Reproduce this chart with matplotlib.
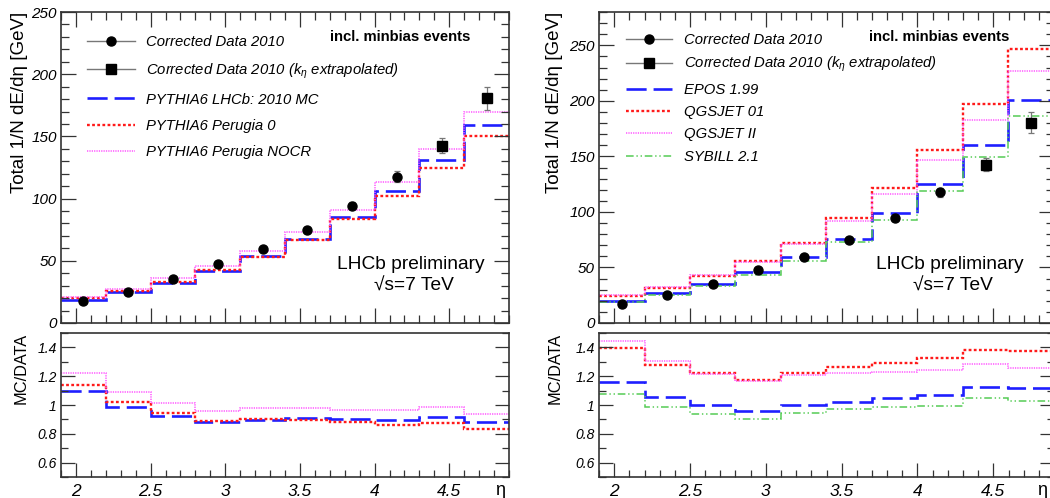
import matplotlib
matplotlib.use("Agg")
import matplotlib.pyplot as plt
from matplotlib.lines import Line2D
from matplotlib.ticker import MultipleLocator

plt.rcParams['font.family'] = ['Liberation Sans', 'DejaVu Sans']
plt.rcParams['mathtext.fontset'] = 'custom'
plt.rcParams['mathtext.rm'] = 'Liberation Sans'
plt.rcParams['mathtext.it'] = 'Liberation Sans:italic'
plt.rcParams['lines.scale_dashes'] = False

# ---------------- data ----------------
eta_edges = [1.9, 2.2, 2.5, 2.8, 3.1, 3.4, 3.7, 4.0, 4.3, 4.6, 4.9]
eta_data = [2.05, 2.35, 2.65, 2.95, 3.25, 3.55, 3.85, 4.15]
data_2010 = [17.4, 24.9, 35.3, 47.6, 59.4, 74.9, 94.4, 117.6]
data_2010_err = [0.6, 0.8, 1.1, 1.5, 1.9, 2.4, 3.0, 4.2]
eta_extrap = [4.45, 4.75]
data_extrap = [142.5, 180.5]
data_extrap_err = [6.0, 9.4]

# left panel: PYTHIA6 tunes
pythia_lhcb = [18.7, 24.9, 32.1, 42.0, 53.5, 67.4, 85.0, 105.9, 130.7, 158.8]
pythia_p0 = [19.8, 25.4, 33.3, 42.4, 53.4, 67.1, 83.2, 102.0, 124.8, 150.7]
pythia_nocr = [21.3, 27.3, 35.8, 45.6, 57.8, 73.0, 91.0, 113.3, 139.8, 169.3]
ratio_lhcb = [1.097, 0.987, 0.922, 0.882, 0.899, 0.908, 0.903, 0.899, 0.920, 0.880]
ratio_p0 = [1.141, 1.020, 0.943, 0.892, 0.900, 0.896, 0.882, 0.864, 0.878, 0.836]
ratio_nocr = [1.225, 1.092, 1.015, 0.957, 0.978, 0.978, 0.966, 0.962, 0.983, 0.938]

# right panel: cosmic-ray generators
epos = [20.1, 26.9, 35.3, 45.5, 59.3, 76.0, 98.8, 125.4, 160.5, 201.2]
qgsjet01 = [24.4, 31.8, 42.5, 55.4, 72.0, 94.3, 121.3, 155.4, 197.0, 247.0]
qgsjet2 = [25.1, 32.5, 42.8, 55.0, 71.0, 91.9, 116.2, 146.4, 183.2, 226.6]
sybill = [18.6, 25.4, 33.3, 43.1, 55.7, 72.8, 92.8, 119.2, 149.7, 186.2]
ratio_epos = [1.162, 1.055, 1.000, 0.959, 1.003, 1.024, 1.048, 1.066, 1.127, 1.115]
ratio_q01 = [1.398, 1.276, 1.225, 1.171, 1.225, 1.262, 1.290, 1.323, 1.384, 1.372]
ratio_q2 = [1.444, 1.304, 1.216, 1.164, 1.209, 1.223, 1.232, 1.244, 1.288, 1.255]
ratio_syb = [1.078, 0.987, 0.936, 0.903, 0.943, 0.969, 0.985, 0.992, 1.048, 1.031]

labels_left = ["PYTHIA6 LHCb: 2010 MC", "PYTHIA6 Perugia 0", "PYTHIA6 Perugia NOCR"]
labels_right = ["EPOS 1.99", "QGSJET 01", "QGSJET II", "SYBILL 2.1"]
lbl_data = "Corrected Data 2010"
lbl_extrap = r"Corrected Data 2010 ($k_{\eta}$ extrapolated)"

# ---------------- styles ----------------
BLUE = '#1f1fff'
RED = '#ff1a1a'
MAG = '#ff55ff'
GREEN = '#55cc55'
sty_blue = dict(color=BLUE, lw=1.9, ls=(0, (14.5, 5.0)))
sty_red = dict(color=RED, lw=1.7, ls=(0, (2.0, 1.7)))
sty_mag = dict(color=MAG, lw=1.1, ls=(0, (0.9, 0.8)))
sty_green = dict(color=GREEN, lw=1.1, ls=(0, (5.5, 2.0, 1.0, 2.0, 1.0, 2.0)))
FRAME = '#333333'

W, H = 1050, 498
fig = plt.figure(figsize=(W / 100, H / 100), dpi=100)


def pos(l, t, r, b):
    return [l / W, 1 - b / H, (r - l) / W, (b - t) / H]


axL = fig.add_axes(pos(61, 12, 509, 323))
axLr = fig.add_axes(pos(61, 333, 509, 477))
axR = fig.add_axes(pos(599, 12, 1054, 323))
axRr = fig.add_axes(pos(599, 333, 1054, 477))


def style_frame(ax):
    for s in ax.spines.values():
        s.set_color(FRAME)
        s.set_linewidth(1.2)


def draw_data(ax):
    ax.errorbar(eta_data, data_2010, yerr=data_2010_err, fmt='o', ms=6.5,
                mfc='black', mec='black', ecolor='#777777', elinewidth=0.9,
                capsize=2.5, capthick=0.9, zorder=5)
    ax.errorbar(eta_extrap, data_extrap, yerr=data_extrap_err, fmt='s', ms=6.5,
                mfc='black', mec='black', ecolor='#777777', elinewidth=0.9,
                capsize=2.5, capthick=0.9, zorder=5)


def main_axes(ax, ymax):
    style_frame(ax)
    ax.set_xlim(eta_edges[0], eta_edges[-1])
    ax.set_ylim(0, ymax)
    ax.xaxis.set_major_locator(MultipleLocator(0.5))
    ax.xaxis.set_minor_locator(MultipleLocator(0.1))
    yt = list(range(0, 251, 50))
    ax.set_yticks(yt, [str(v) for v in yt], fontstyle='italic', fontsize=11)
    ax.yaxis.set_minor_locator(MultipleLocator(10))
    ax.tick_params(which='both', direction='in', top=True, right=True,
                   labelbottom=False, color=FRAME, width=0.9)
    ax.tick_params(which='major', length=10.5, pad=3)
    ax.tick_params(which='minor', length=5.5)
    ax.set_ylabel("Total 1/N dE/dη [GeV]", fontsize=13.5, loc='top')


def ratio_axes(ax):
    style_frame(ax)
    ax.set_xlim(eta_edges[0], eta_edges[-1])
    ax.set_ylim(0.5, 1.5)
    xt = [2, 2.5, 3, 3.5, 4, 4.5]
    ax.set_xticks(xt, ['%g' % v for v in xt], fontstyle='italic', fontsize=12.5)
    ax.xaxis.set_minor_locator(MultipleLocator(0.1))
    yt = [0.6, 0.8, 1.0, 1.2, 1.4]
    ax.set_yticks(yt, ['%g' % v for v in yt], fontstyle='italic', fontsize=10)
    ax.yaxis.set_minor_locator(MultipleLocator(0.1))
    ax.tick_params(which='both', direction='in', top=False, right=True,
                   color=FRAME, width=0.9)
    ax.tick_params(which='major', length=10, pad=3)
    ax.tick_params(which='minor', length=5)
    ax.tick_params(axis='x', which='major', pad=5)
    ax.set_ylabel("MC/DATA", fontsize=11.8, loc='top')


def data_handles():
    h1 = Line2D([], [], color='#777777', lw=1, marker='o', ms=6.5, mfc='k', mec='k')
    h2 = Line2D([], [], color='#777777', lw=1, marker='s', ms=6.5, mfc='k', mec='k')
    return [h1, h2]


def steps(ax, vals, **kw):
    return ax.stairs(vals, eta_edges, baseline=None, **kw)


# ---------------- left panel ----------------
main_axes(axL, 250)
sL = [steps(axL, pythia_lhcb, label=labels_left[0], **sty_blue),
      steps(axL, pythia_p0, label=labels_left[1], **sty_red),
      steps(axL, pythia_nocr, label=labels_left[2], **sty_mag)]
draw_data(axL)
axL.yaxis.set_label_coords(-0.073, 1.0)
axL.legend(data_handles() + sL, [lbl_data, lbl_extrap] + labels_left,
           loc='upper left', bbox_to_anchor=(0.058, 0.926), frameon=False,
           prop=dict(style='italic', size=10.7), handlelength=3.2,
           handletextpad=0.75, labelspacing=0.82, borderpad=0,
           borderaxespad=0, numpoints=1)
axL.text(0.758, 0.92, "incl. minbias events", transform=axL.transAxes,
         ha='center', va='center', fontsize=10.7, fontweight='bold')
axL.text(0.781, 0.1865, "LHCb preliminary", transform=axL.transAxes,
         ha='center', va='center', fontsize=13.8)
axL.text(0.788, 0.119, "√s=7 TeV", transform=axL.transAxes,
         ha='center', va='center', fontsize=13.8)

ratio_axes(axLr)
steps(axLr, ratio_lhcb, **sty_blue)
steps(axLr, ratio_p0, **sty_red)
steps(axLr, ratio_nocr, **sty_mag)
axLr.yaxis.set_label_coords(-0.073, 1.0)

# ---------------- right panel ----------------
main_axes(axR, 280)
sR = [steps(axR, epos, label=labels_right[0], **sty_blue),
      steps(axR, qgsjet01, label=labels_right[1], **sty_red),
      steps(axR, qgsjet2, label=labels_right[2], **sty_mag),
      steps(axR, sybill, label=labels_right[3], **sty_green)]
draw_data(axR)
axR.yaxis.set_label_coords(-0.08, 1.0)
axR.legend(data_handles() + sR, [lbl_data, lbl_extrap] + labels_right,
           loc='upper left', bbox_to_anchor=(0.06, 0.933), frameon=False,
           prop=dict(style='italic', size=10.7), handlelength=3.1,
           handletextpad=0.8, labelspacing=0.56, borderpad=0,
           borderaxespad=0, numpoints=1)
axR.text(0.747, 0.92, "incl. minbias events", transform=axR.transAxes,
         ha='center', va='center', fontsize=10.7, fontweight='bold')
axR.text(0.771, 0.1865, "LHCb preliminary", transform=axR.transAxes,
         ha='center', va='center', fontsize=13.8)
axR.text(0.778, 0.119, "√s=7 TeV", transform=axR.transAxes,
         ha='center', va='center', fontsize=13.8)

ratio_axes(axRr)
steps(axRr, ratio_epos, **sty_blue)
steps(axRr, ratio_q01, **sty_red)
steps(axRr, ratio_q2, **sty_mag)
steps(axRr, ratio_syb, **sty_green)
axRr.yaxis.set_label_coords(-0.08, 1.0)

# eta axis titles
fig.text(505 / W, 1 - 490 / H, "η", ha='right', va='center', fontsize=13)
fig.text(1047 / W, 1 - 490 / H, "η", ha='right', va='center', fontsize=13)

fig.savefig("out.png", dpi=100)
